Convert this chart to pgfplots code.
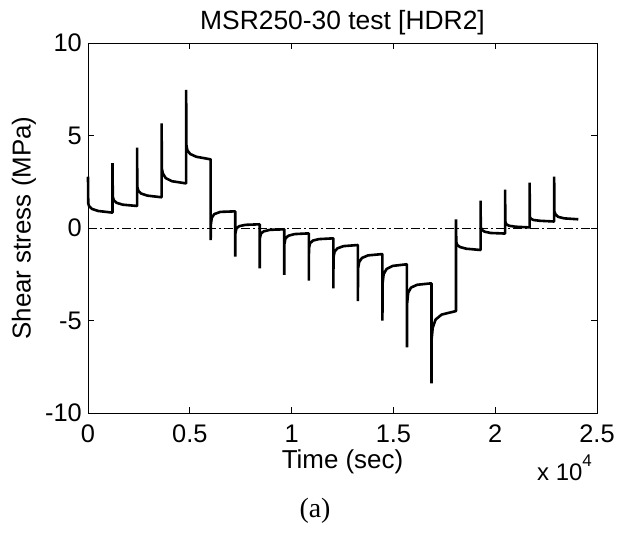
\documentclass[border=0pt]{standalone}
\usepackage{fontspec}
\setmainfont{Liberation Sans}
\newfontfamily\timesfont{Liberation Serif}
\usepackage{pgfplots}
\pgfplotsset{compat=1.18}
\begin{document}
\begin{tikzpicture}[x=1bp,y=1bp]
\useasboundingbox (0,0) rectangle (620,535);
\begin{axis}[
  at={(88bp,122bp)}, anchor=south west,
  scale only axis, width=509bp, height=370bp,
  xmin=0, xmax=25000, ymin=-10, ymax=10,
  xtick={0,5000,10000,15000,20000,25000},
  xticklabels={0,0.5,1,1.5,2,2.5},
  ytick={-10,-5,0,5,10},
  yticklabels={-10,-5,0,5,10},
  scaled ticks=false,
  tick align=inside,
  major tick length=6bp,
  tick style={black, line width=0.8bp},
  axis line style={black, line width=0.8bp},
  xticklabel style={font=\fontsize{25.5}{30}\selectfont, anchor=north, inner sep=0pt, yshift=-12bp},
  yticklabel style={font=\fontsize{25.5}{30}\selectfont, anchor=east, inner sep=0pt, xshift=-6bp},
  clip=false,
]
\addplot[black, line width=0.8bp, dash pattern=on 9bp off 3bp on 2bp off 3bp] coordinates {(0,0) (25000,0)};
\addplot[black, line width=2.6bp, line join=bevel] coordinates {
(0,2.77) (12,1.33) (60,1.17) (200,1.03) (500,0.92) (1205,0.83)
(1205,3.5) (1217,1.7) (1265,1.5) (1405,1.36) (1705,1.26) (2410,1.19)
(2410,4.34) (2422,2.23) (2470,2.02) (2610,1.86) (2910,1.75) (3615,1.66)
(3615,5.66) (3627,3.22) (3675,2.95) (3815,2.7) (4115,2.53) (4820,2.41)
(4820,7.46) (4832,4.49) (4880,4.2) (5020,4.0) (5320,3.85) (6025,3.71)
(6025,-0.65) (6035,0.2) (6080,0.55) (6200,0.75) (6500,0.87) (7230,0.9)
(7230,-1.55) (7238,-0.3) (7290,-0.02) (7430,0.1) (7730,0.17) (8435,0.2)
(8435,-2.18) (8443,-0.55) (8495,-0.3) (8635,-0.18) (8935,-0.1) (9640,-0.07)
(9640,-2.54) (9648,-0.85) (9700,-0.56) (9840,-0.42) (10140,-0.33) (10845,-0.29)
(10845,-2.85) (10853,-1.1) (10905,-0.83) (11045,-0.68) (11345,-0.6) (12050,-0.56)
(12050,-3.26) (12058,-1.6) (12110,-1.28) (12250,-1.1) (12550,-0.98) (13255,-0.92)
(13255,-3.95) (13263,-2.2) (13315,-1.85) (13455,-1.62) (13755,-1.48) (14460,-1.41)
(14460,-5.01) (14468,-3.0) (14520,-2.5) (14660,-2.22) (14960,-2.05) (15665,-1.96)
(15665,-6.45) (15673,-4.1) (15725,-3.5) (15865,-3.22) (16165,-3.07) (16870,-2.99)
(16870,-8.4) (16878,-6.0) (16930,-5.4) (17070,-4.95) (17370,-4.68) (18075,-4.49)
(18075,0.47) (18087,-0.75) (18135,-0.92) (18275,-1.03) (18575,-1.12) (19280,-1.19)
(19280,1.48) (19292,0.05) (19340,-0.1) (19480,-0.2) (19780,-0.27) (20485,-0.3)
(20485,2.07) (20497,0.35) (20545,0.2) (20685,0.12) (20985,0.07) (21690,0.03)
(21690,2.45) (21702,0.6) (21750,0.5) (21890,0.43) (22190,0.39) (22895,0.35)
(22895,2.77) (22907,0.9) (22955,0.75) (23095,0.6) (23395,0.52) (24080,0.47)
};
\end{axis}
\node[anchor=base, inner sep=0pt, font=\fontsize{26.5}{30}\selectfont] at (342.5,505.7) {MSR250-30 test [HDR2]};
\node[anchor=base, inner sep=0pt, font=\fontsize{26}{30}\selectfont] at (342.5,66.7) {Time (sec)};
\node[anchor=base west, inner sep=0pt, font=\fontsize{24}{30}\selectfont] at (537,54) {x 10\raisebox{14bp}{\fontsize{17}{20}\selectfont 4}};
\node[rotate=90, inner sep=0pt, font=\fontsize{26}{30}\selectfont] at (24,307) {Shear stress (MPa)};
\node[anchor=base, inner sep=0pt, font=\fontsize{28}{32}\selectfont\timesfont] at (315,17) {(a)};
\end{tikzpicture}
\end{document}
